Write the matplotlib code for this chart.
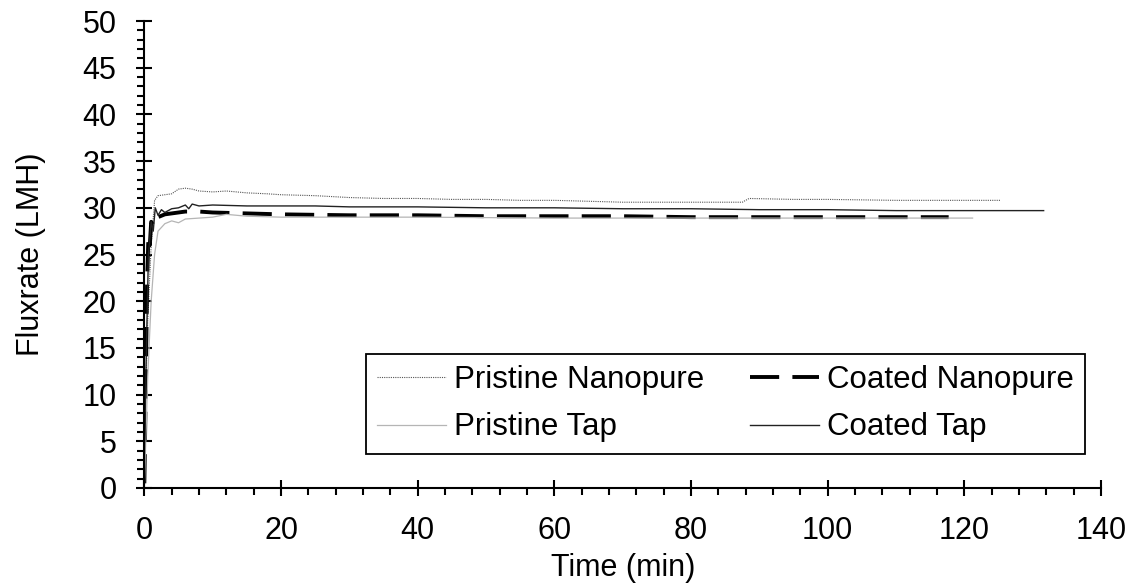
import numpy as np
import matplotlib.pyplot as plt
from matplotlib.ticker import MultipleLocator

plt.rcParams['font.family'] = ['Liberation Sans', 'DejaVu Sans']

# Pristine Nanopure
t_pn = [0, 0.5, 1.0, 1.5, 2, 3, 4, 5, 6, 7, 8, 10, 12, 15, 18, 20, 25, 30, 35, 40, 45,
        50, 55, 60, 65, 70, 75, 80, 85, 87.5, 88.5, 95, 100, 110, 120, 125.3]
f_pn = [5, 18, 26, 30.8, 31.3, 31.4, 31.5, 32.0, 32.1, 32.0, 31.8, 31.7, 31.8, 31.6, 31.5, 31.4,
        31.3, 31.1, 31.0, 31.0, 30.9, 30.9, 30.8, 30.8, 30.7, 30.6, 30.6, 30.6, 30.6, 30.6,
        31.0, 30.9, 30.9, 30.8, 30.8, 30.8]

# Coated Nanopure
t_cn = [0, 0.2, 0.4, 0.6, 0.8, 1.0, 1.5, 2, 3, 4, 5, 6, 8, 10, 15, 20, 30, 40, 50, 60,
        70, 80, 90, 100, 110, 117.7]
f_cn = [0.5, 10, 22, 27, 26, 28.5, 28, 29, 29.3, 29.4, 29.5, 29.6, 29.6, 29.5, 29.4, 29.3,
        29.2, 29.2, 29.1, 29.1, 29.1, 29.0, 29.0, 29.0, 29.0, 29.0]

# Pristine Tap
t_pt = [0, 0.5, 1.0, 1.5, 2, 3, 4, 5, 6, 8, 10, 12, 15, 20, 30, 40, 60, 80, 100, 121.2]
f_pt = [0, 12, 20, 25, 27.5, 28.3, 28.6, 28.4, 28.8, 28.9, 29.0, 29.3, 29.1, 29.0, 29.0,
        29.0, 28.9, 28.9, 28.9, 28.9]

# Coated Tap
t_ct = [0, 0.3, 0.6, 1.0, 1.3, 1.6, 2, 2.5, 3, 4, 5, 6, 6.5, 7, 8, 10, 15, 20, 25, 30, 40,
        50, 60, 70, 80, 90, 100, 110, 120, 131.6]
f_ct = [3, 15, 25, 28.5, 27.5, 30.0, 29.2, 29.8, 29.5, 29.9, 30.0, 30.3, 29.9, 30.4, 30.2,
        30.3, 30.2, 30.2, 30.2, 30.1, 30.1, 30.0, 30.0, 29.9, 29.9, 29.8, 29.8, 29.7, 29.7, 29.7]

fs = 22
fig = plt.figure(figsize=(11.33, 5.84), dpi=100)
ax = fig.add_axes([0.1274, 0.1644, 0.8444, 0.7996])

l_pn, = ax.plot(t_pn, f_pn, color='#555555', lw=0.8, ls=(0, (1, 1)), label='Pristine Nanopure')
l_cn, = ax.plot(t_cn, f_cn, color='black', lw=2.8, ls=(0, (7.5, 3.4)), label='Coated Nanopure')
l_pt, = ax.plot(t_pt, f_pt, color='#b5b5b5', lw=0.9, label='Pristine Tap')
l_ct, = ax.plot(t_ct, f_ct, color='#222222', lw=1.0, label='Coated Tap')

ax.set_xlim(0, 140)
ax.set_ylim(0, 50)
ax.xaxis.set_major_locator(MultipleLocator(20))
ax.xaxis.set_minor_locator(MultipleLocator(4))
ax.yaxis.set_major_locator(MultipleLocator(5))
ax.yaxis.set_minor_locator(MultipleLocator(1))

for s in ['top', 'right']:
    ax.spines[s].set_visible(False)
for s in ['left', 'bottom']:
    ax.spines[s].set_linewidth(1.5)

ax.tick_params(which='major', direction='inout', length=12, width=1.5, labelsize=fs, pad=14)
ax.tick_params(which='minor', direction='out', length=5, width=1.5)

ax.set_xlabel('Time (min)', fontsize=fs, labelpad=5)
ax.set_ylabel('Fluxrate (LMH)', fontsize=fs, labelpad=26)

leg = ax.legend([l_pn, l_pt, l_cn, l_ct],
                ['Pristine Nanopure', 'Pristine Tap', 'Coated Nanopure', 'Coated Tap'],
                ncol=2, loc='upper left', bbox_to_anchor=(366 / 1133, 1 - 354 / 584),
                bbox_transform=fig.transFigure, borderaxespad=0, fontsize=22.5,
                fancybox=False, edgecolor='black', framealpha=1, handlelength=2.2,
                handletextpad=0.27, columnspacing=1.45, labelspacing=0.55, borderpad=0.36)
leg.get_frame().set_linewidth(1.3)

fig.savefig('out.png', dpi=100)
